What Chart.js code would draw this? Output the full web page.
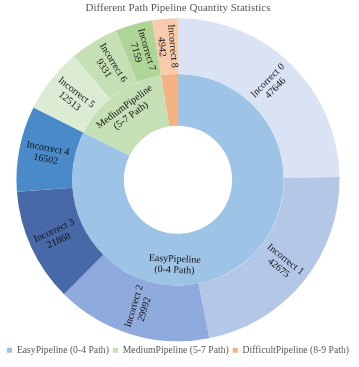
<!DOCTYPE html>
<html>
<head>
<meta charset="utf-8">
<script src="https://cdn.jsdelivr.net/npm/chart.js@4"></script>
<style>
  html, body { margin: 0; padding: 0; background: #fff; }
  #wrap { width: 359px; height: 367px; }
</style>
</head>
<body>
<div id="wrap"><canvas id="chartPipeline"></canvas></div>
<script>
// ---- dados ----
const pipelineLabels = ["EasyPipeline (0-4 Path)", "MediumPipeline (5-7 Path)", "DifficultPipeline (8-9 Path)"];
const pipelineShort = [["EasyPipeline", "(0-4 Path)"], ["MediumPipeline", "(5-7 Path)"], null];
const pipelineColors = ["#9dc3e6", "#c5e0b4", "#f4b183"];

const incorrectLabels = ["Incorrect 0", "Incorrect 1", "Incorrect 2", "Incorrect 3", "Incorrect 4",
  "Incorrect 5", "Incorrect 6", "Incorrect 7", "Incorrect 8"];
const incorrectValues = [47646, 42675, 29992, 21868, 16502, 12513, 9331, 7159, 4942];
const incorrectGroup = [0, 0, 0, 0, 0, 1, 1, 1, 2];
const incorrectColors = ["#dae3f3", "#b4c7e7", "#8faadc", "#4869a8", "#4a8ac9",
  "#dcebd3", "#c5e0b4", "#aed596", "#f8cbad"];

// soma por pipeline a partir das fatias externas
const pipelineValues = pipelineLabels.map((_, g) =>
  incorrectValues.reduce((a, v, i) => a + (incorrectGroup[i] === g ? v : 0), 0));

const FONT = '"Liberation Serif", "Times New Roman", serif';

const labelPlugin = {
  id: "sliceLabels",
  afterDatasetsDraw(chart) {
    const ctx = chart.ctx;
    ctx.save();
    ctx.fillStyle = "#111";
    ctx.font = "10px " + FONT;
    ctx.textAlign = "center";
    ctx.textBaseline = "middle";
    chart.data.datasets.forEach((ds, di) => {
      const meta = chart.getDatasetMeta(di);
      meta.data.forEach((arc, i) => {
        const lines = ds.labelLines[i];
        if (!lines) return;
        const p = arc.getProps(["x", "y", "startAngle", "endAngle", "innerRadius", "outerRadius"], true);
        let mid = (p.startAngle + p.endAngle) / 2;
        if (ds.labelAngle && ds.labelAngle[i] != null) mid = ds.labelAngle[i];
        const r = (p.innerRadius + p.outerRadius) / 2 + (ds.labelShift || 0);
        const x = p.x + Math.cos(mid) * r;
        const y = p.y + Math.sin(mid) * r;
        let rot;
        if (ds.labelMode === "radial") {
          rot = Math.cos(mid) < 0 ? mid + Math.PI : mid;
        } else {
          rot = Math.sin(mid) > 0 ? mid - Math.PI / 2 : mid + Math.PI / 2;
        }
        ctx.save();
        ctx.translate(x, y);
        ctx.rotate(rot);
        const lh = 11;
        lines.forEach((t, k) => ctx.fillText(t, 0, (k - (lines.length - 1) / 2) * lh));
        ctx.restore();
      });
    });
    ctx.restore();
  },
};

new Chart(document.getElementById("chartPipeline").getContext("2d"), {
  type: "doughnut",
  data: {
    labels: incorrectLabels,
    datasets: [
      {
        data: incorrectValues,
        backgroundColor: incorrectColors,
        borderWidth: 0,
        weight: 56,
        labelMode: "radial",
        labelLines: incorrectLabels.map((l, i) => [l, String(incorrectValues[i])]),
      },
      {
        data: pipelineValues,
        backgroundColor: pipelineColors,
        borderWidth: 0,
        weight: 52,
        labelMode: "tangential",
        labelShift: 5,
        labelAngle: [Math.PI / 2 + 0.04, null, null],
        labelLines: pipelineShort,
      },
    ],
  },
  options: {
    responsive: true,
    maintainAspectRatio: false,
    animation: false,
    cutout: "33.5%",
    events: [],
    layout: { padding: { top: 0, bottom: 2, left: 0, right: 3 } },
    plugins: {
      tooltip: { enabled: false },
      title: {
        display: true,
        text: "Different Path Pipeline Quantity Statistics",
        color: "#595959",
        font: { family: FONT, size: 11, weight: "normal" },
        padding: { top: 2, bottom: 3 },
      },
      legend: {
        position: "bottom",
        labels: {
          color: "#595959",
          font: { family: FONT, size: 9.7 },
          boxWidth: 5,
          boxHeight: 5,
          padding: 4,
          generateLabels: () =>
            pipelineLabels.map((t, i) => ({
              text: t,
              fillStyle: pipelineColors[i],
              strokeStyle: pipelineColors[i],
              lineWidth: 0,
              fontColor: "#595959",
              hidden: false,
              index: i,
            })),
        },
      },
    },
  },
  plugins: [labelPlugin],
});
</script>
</body>
</html>
